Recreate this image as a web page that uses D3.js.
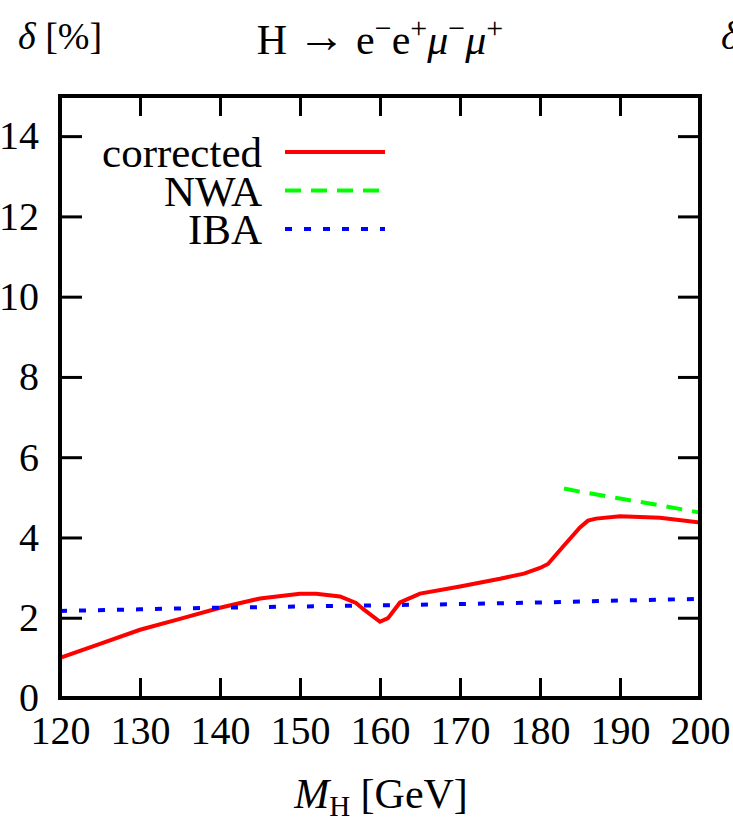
<!DOCTYPE html>
<html>
<head>
<meta charset="utf-8">
<script src="https://cdn.jsdelivr.net/npm/d3@7"></script>
<style>
  body { margin: 0; background: #fff; }
</style>
</head>
<body>
<svg width="733" height="820"></svg>
<script>
// values
var massTicks = [120, 130, 140, 150, 160, 170, 180, 190, 200];
var deltaTicks = [0, 2, 4, 6, 8, 10, 12, 14];

var correctedM = [120, 125, 130, 135, 140, 145, 150, 152, 155, 157, 158, 160, 161, 162.5, 165, 170, 175, 178, 180, 181, 183, 185, 186, 187, 190, 195, 200];
var correctedD = [1.0, 1.35, 1.7, 1.97, 2.25, 2.48, 2.6, 2.6, 2.53, 2.37, 2.2, 1.9, 1.99, 2.38, 2.6, 2.78, 2.97, 3.1, 3.24, 3.34, 3.8, 4.25, 4.42, 4.47, 4.53, 4.49, 4.37];

var nwaM = [183, 185, 190, 195, 200];
var nwaD = [5.22, 5.14, 4.97, 4.8, 4.62];

var ibaM = [120, 130, 140, 150, 160, 170, 180, 190, 200];
var ibaD = [2.17, 2.21, 2.25, 2.28, 2.31, 2.34, 2.38, 2.43, 2.47];

var series = [
  {name: "corrected", m: correctedM, d: correctedD, color: "#ff0000", dash: null},
  {name: "NWA", m: nwaM, d: nwaD, color: "#00ff00", dash: "16,10"},
  {name: "IBA", m: ibaM, d: ibaD, color: "#0000ff", dash: "7,12"}
];

var FONT = "'Liberation Serif', 'DejaVu Serif', serif";

var svg = d3.select("svg"),
    margin = {top: 96, right: 33, bottom: 122, left: 60},
    width = +svg.attr("width") - margin.left - margin.right,
    height = +svg.attr("height") - margin.top - margin.bottom;

var x = d3.scaleLinear().domain([120, 200]).range([0, width]),
    y = d3.scaleLinear().domain([0, 15]).range([height, 0]);

var g = svg.append("g")
    .attr("transform", "translate(" + margin.left + "," + margin.top + ")");

// clip the curves to the frame
g.append("clipPath").attr("id", "plot")
  .append("rect").attr("width", width).attr("height", height);

var line = d3.line()
    .x(function(p) { return x(p[0]); })
    .y(function(p) { return y(p[1]); });

g.append("g").attr("clip-path", "url(#plot)")
  .selectAll(".curve")
  .data(series)
  .enter().append("path")
    .attr("class", "curve")
    .attr("fill", "none")
    .attr("stroke", function(s) { return s.color; })
    .attr("stroke-width", 4)
    .attr("stroke-dasharray", function(s) { return s.dash; })
    .attr("d", function(s) { return line(s.m.map(function(m, i) { return [m, s.d[i]]; })); });

// axes, ticks pointing inwards on all four sides
function styleAxis(sel) {
  sel.attr("font-family", null).attr("font-size", null);
  sel.select(".domain").remove();
  sel.selectAll("line").attr("stroke", "#000").attr("stroke-width", 3);
  sel.selectAll("text").style("font-size", "40px");
}

g.append("g")
    .attr("transform", "translate(0," + height + ")")
    .call(d3.axisBottom(x).tickValues(massTicks).tickSizeInner(-20).tickPadding(12))
    .call(styleAxis)
    .selectAll("text").attr("dy", "0.85em");

g.append("g")
    .call(d3.axisTop(x).tickValues(massTicks).tickSizeInner(-20).tickFormat(""))
    .call(styleAxis);

g.append("g")
    .call(d3.axisLeft(y).tickValues(deltaTicks).tickSizeInner(-22).tickPadding(21))
    .call(styleAxis);

g.append("g")
    .attr("transform", "translate(" + width + ",0)")
    .call(d3.axisRight(y).tickValues(deltaTicks).tickSizeInner(-22).tickFormat(""))
    .call(styleAxis);

g.append("rect")
    .attr("width", width).attr("height", height)
    .attr("fill", "none").attr("stroke", "#000").attr("stroke-width", 4);

// legend
var legend = g.selectAll(".legend")
  .data(series)
  .enter().append("g")
    .attr("class", "legend")
    .attr("transform", function(s, i) { return "translate(0," + (56 + i * 38.5) + ")"; });

legend.append("text")
    .attr("x", 202).attr("dy", "0.35em")
    .attr("text-anchor", "end")
    .style("font-size", "43px")
    .text(function(s) { return s.name; });

legend.append("line")
    .attr("x1", 225).attr("x2", 325)
    .attr("stroke", function(s) { return s.color; })
    .attr("stroke-width", 4)
    .attr("stroke-dasharray", function(s) { return s.dash; });

// labels
svg.append("text")
    .attr("x", 18).attr("y", 49)
    .style("font-size", "38px")
    .html('<tspan font-style="italic">δ</tspan> [%]');

svg.append("text")
    .attr("x", 380).attr("y", 54)
    .attr("text-anchor", "middle")
    .style("font-size", "42px")
    .html('H <tspan font-size="48" dy="-2">→</tspan> <tspan dy="2">e</tspan><tspan dy="-16" font-size="30">−</tspan><tspan dy="16">e</tspan><tspan dy="-16" font-size="30">+</tspan><tspan dy="16" font-style="italic">μ</tspan><tspan dy="-16" font-size="30">−</tspan><tspan dy="16" font-style="italic">μ</tspan><tspan dy="-16" font-size="30">+</tspan>');

svg.append("text")
    .attr("x", 721).attr("y", 49)
    .style("font-size", "40px")
    .style("font-style", "italic")
    .text("δ");

svg.append("text")
    .attr("x", 381).attr("y", 808)
    .attr("text-anchor", "middle")
    .style("font-size", "42px")
    .html('<tspan font-style="italic">M</tspan><tspan dy="8" font-size="29">H</tspan><tspan dy="-8"> [GeV]</tspan>');

svg.selectAll("text").style("font-family", FONT).style("fill", "#000");
</script>
</body>
</html>
